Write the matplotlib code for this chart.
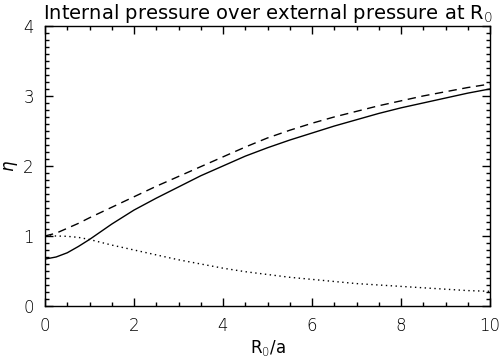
import numpy as np
import matplotlib
matplotlib.use('Agg')
import matplotlib.pyplot as plt
from matplotlib.ticker import MultipleLocator

# values
r0 = [0, 0.25, 0.5, 0.75, 1, 1.5, 2, 2.5, 3, 3.5, 4, 4.5, 5, 5.5, 6, 6.5, 7, 7.5,
      8, 8.5, 9, 9.5, 10]
eta_solid = [0.67, 0.70, 0.76, 0.85, 0.95, 1.17, 1.37, 1.54, 1.70, 1.86, 2.00, 2.14,
             2.26, 2.37, 2.47, 2.57, 2.66, 2.75, 2.83, 2.90, 2.97, 3.04, 3.10]
eta_dashed = [1.00, 1.04, 1.11, 1.18, 1.26, 1.41, 1.56, 1.71, 1.85, 1.99, 2.13, 2.27,
              2.40, 2.51, 2.61, 2.70, 2.78, 2.86, 2.93, 3.00, 3.06, 3.12, 3.17]
eta_dotted = [1.00, 1.00, 0.995, 0.98, 0.95, 0.87, 0.80, 0.73, 0.66, 0.60, 0.54, 0.49,
              0.45, 0.41, 0.38, 0.35, 0.32, 0.30, 0.28, 0.26, 0.24, 0.22, 0.21]

plt.rcParams['font.family'] = ['DejaVu Sans']
plt.rcParams['font.weight'] = 'light'

fig = plt.figure(figsize=(5, 3.6), dpi=100)
ax = fig.add_axes([0.09, 0.15, 0.89, 0.778])

ax.plot(r0, eta_solid, color='black', lw=1.0)
ax.plot(r0, eta_dashed, color='black', lw=1.0, dashes=(6, 4))
ax.plot(r0, eta_dotted, color='black', lw=1.0, dashes=(1, 2.5))

ax.set_xlim(0, 10)
ax.set_ylim(0, 4)
ax.xaxis.set_major_locator(MultipleLocator(2))
ax.xaxis.set_minor_locator(MultipleLocator(0.5))
ax.yaxis.set_major_locator(MultipleLocator(1))
ax.yaxis.set_minor_locator(MultipleLocator(0.1))
ax.tick_params(which='both', direction='in', top=True, right=True, labelsize=12, width=1)
ax.tick_params(which='major', length=6, pad=8)
ax.tick_params(which='minor', length=3)
for s in ax.spines.values():
    s.set_linewidth(1)

ax.set_title('Internal pressure over external pressure at R$_0$', fontsize=14, pad=5)
ax.set_xlabel('R$_0$/a', fontsize=12, labelpad=2)
ax.set_ylabel(r'$\eta$', fontsize=12, labelpad=2)

fig.savefig('out.png', dpi=100)
